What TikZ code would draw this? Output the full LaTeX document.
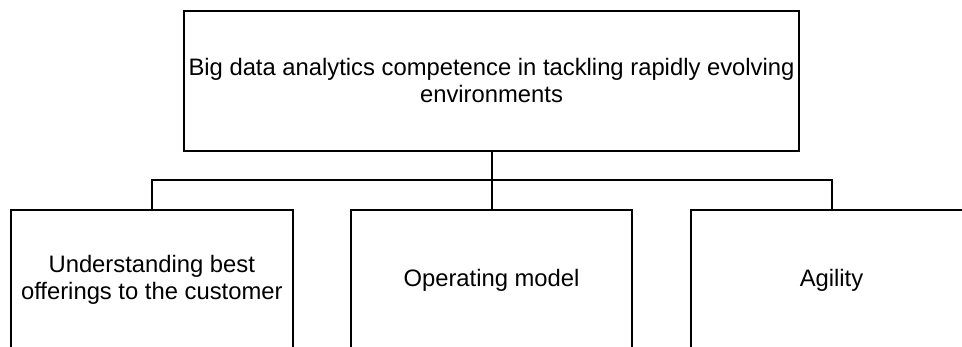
\documentclass[tikz,border=0pt]{standalone}
\usepackage{fontspec}
\setmainfont{Liberation Sans}
\begin{document}
\begin{tikzpicture}[x=1pt,y=-1pt,
  box/.style={draw=black, line width=2pt, rectangle, align=center, inner sep=0pt,
    font=\fontsize{23.8}{27.2}\selectfont, text=black},
  topbox/.style={box, minimum width=615pt, minimum height=140pt},
  childbox/.style={box, minimum width=281.5pt, minimum height=140pt},
  link/.style={draw=black, line width=2pt}]
  \path[use as bounding box, clip] (0,0) rectangle (962,347);
  \fill[white] (0,0) rectangle (962,347);

  % root of the tree
  \node[topbox] (root) at (491.5,80.7)
    {Big data analytics competence in tackling rapidly evolving\\environments};

  % the three branches
  \node[childbox] (offer) at (151.8,280) {Understanding best\\offerings to the customer};
  \node[childbox] (model) at (491.5,280) {Operating model};
  \node[childbox] (agile) at (831.5,280) {Agility};

  % bus joining root and branches
  \coordinate (bus) at (491.5,180);
  \draw[link] (root.south) -- (bus);
  \draw[link] (offer.north) |- (bus) -| (agile.north);
  \draw[link] (bus) -- (model.north);
\end{tikzpicture}
\end{document}
